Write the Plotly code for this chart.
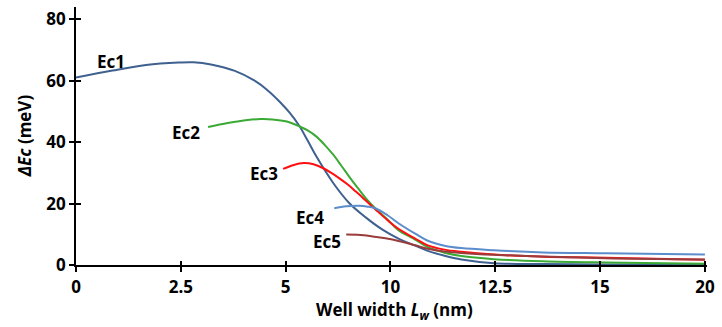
import numpy as np
import plotly.graph_objects as go

# Axis ticks (equally spaced labels on the original chart)
tick_nm = [0, 2.5, 5, 10, 12.5, 15, 20]
tick_labels = ["0", "2.5", "5", "10", "12.5", "15", "20"]
y_ticks = [0, 20, 40, 60, 80]

# Series (well width in nm, ΔEc in meV)
ec1_x = [0, 0.87, 1.67, 2.45, 2.80, 3.22, 3.79, 4.26, 4.56, 4.87, 5.20, 5.67, 6.05, 6.47, 7.27,
         8.03, 8.82, 9.62, 10.19, 10.59, 10.89, 11.29, 11.69, 12.47, 13.64, 15.25, 20]
ec1_y = [61, 63.3, 65.1, 65.9, 66.0, 65.3, 63.2, 60.0, 57.0, 53.0, 49.5, 45.1, 40.5, 35.3, 26.7,
         20.2, 15.5, 11.5, 8.6, 6.3, 4.6, 3.0, 1.8, 0.6, 0.3, 0.2, 0.2]

ec2_x = [3.15, 3.62, 4.09, 4.40, 4.68, 5.06, 5.67, 6.05, 6.47, 6.85, 7.27, 7.65, 8.03, 8.45,
         8.82, 9.30, 9.86, 10.19, 10.59, 10.89, 11.29, 11.69, 12.47, 13.64, 15.25, 20]
ec2_y = [44.9, 46.2, 47.2, 47.5, 47.4, 46.7, 45.1, 43.8, 41.8, 39.2, 35.9, 32.4, 28.8, 25.0,
         21.8, 18.3, 14.8, 11.3, 8.3, 5.8, 4.0, 2.9, 1.9, 1.2, 0.8, 0.4]

ec3_x = [4.94, 5.35, 5.86, 6.33, 6.80, 7.18, 7.55, 7.98, 8.35, 8.82, 9.30, 9.86, 10.19, 10.59,
         10.89, 11.29, 11.69, 12.47, 13.64, 15.25, 20]
ec3_y = [31.3, 32.5, 33.2, 32.8, 31.5, 30.0, 28.3, 26.1, 23.9, 21.0, 18.0, 14.6, 11.8, 8.6,
         6.4, 5.0, 4.3, 3.4, 2.7, 2.4, 1.7]

ec4_x = [7.32, 7.89, 8.50, 8.92, 9.30, 9.86, 10.19, 10.59, 10.89, 11.29, 11.69, 12.47, 13.64, 15.25, 20]
ec4_y = [18.5, 19.1, 19.3, 19.0, 18.4, 16.2, 13.6, 10.2, 7.9, 6.3, 5.5, 4.8, 4.1, 3.8, 3.4]

ec5_x = [7.89, 8.73, 9.15, 9.77, 10.19, 10.59, 10.89, 11.29, 11.69, 12.47, 13.64, 15.25, 20]
ec5_y = [9.9, 9.7, 9.3, 8.7, 7.8, 6.4, 5.3, 4.4, 3.9, 3.3, 2.8, 2.2, 1.8]

names = ["Ec1", "Ec2", "Ec3", "Ec4", "Ec5"]
colors = ["#3f6190", "#3aaa35", "#ff1010", "#5b8ccc", "#9a3c3c"]
series = [(ec1_x, ec1_y), (ec2_x, ec2_y), (ec3_x, ec3_y), (ec4_x, ec4_y), (ec5_x, ec5_y)]

# label anchors in (axis position, meV)
label_pos = [(0.33, 66.1), (1.05, 43.3), (1.79, 29.7), (2.23, 15.4), (2.39, 7.6)]

tick_pos = list(range(len(tick_nm)))


def to_axis(xs):
    return np.interp(xs, tick_nm, tick_pos)


fig = go.Figure()
for (xs, ys), name, c in zip(series, names, colors):
    fig.add_trace(go.Scatter(x=to_axis(xs), y=ys, mode="lines", name=name,
                             line=dict(color=c, width=2, shape="spline", smoothing=1.0),
                             showlegend=False))

font_main = "Open Sans, Liberation Sans, sans-serif"
for name, (px, py) in zip(names, label_pos):
    fig.add_annotation(x=px, y=py, text="<b>%s</b>" % name, showarrow=False,
                       font=dict(family=font_main, size=17, color="black"))

fig.add_annotation(xref="paper", yref="paper", x=0.505, y=-0.175, text="<b>Well width <i>L<sub>w</sub></i> (nm)</b>",
                   showarrow=False, font=dict(family=font_main, size=17, color="black"),
                   xanchor="center", yanchor="middle")
fig.add_annotation(xref="paper", yref="paper", x=-0.082, y=0.5, text="<b><i>ΔEc</i> (meV)</b>",
                   showarrow=False, textangle=-90, font=dict(family=font_main, size=17, color="black"),
                   xanchor="center", yanchor="middle")

axis_common = dict(showgrid=False, zeroline=False, linecolor="black", ticks="outside",
                   tickcolor="black", tickwidth=1.5, ticklen=5)

fig.update_layout(
    width=722, height=327,
    margin=dict(l=76, r=8, t=7, b=62),
    paper_bgcolor="white", plot_bgcolor="white",
    xaxis=dict(range=[0, 6.02], tickvals=tick_pos, ticktext=tick_labels, linewidth=2.2,
               tickfont=dict(family=font_main, size=17, color="black", weight="bold"), **axis_common),
    yaxis=dict(range=[0, 84], tickvals=y_ticks, linewidth=1.8,
               tickfont=dict(family=font_main, size=17, color="black", weight="bold"), **axis_common),
    xaxis2=dict(overlaying="x", matches="x", range=[0, 6.02], tickvals=tick_pos, showticklabels=False,
                ticks="inside", ticklen=4, tickwidth=1.5, tickcolor="black", showgrid=False,
                zeroline=False, showline=False, side="bottom"),
    yaxis2=dict(overlaying="y", matches="y", range=[0, 84], tickvals=y_ticks, showticklabels=False,
                ticks="inside", ticklen=5, tickwidth=1.5, tickcolor="black", showgrid=False,
                zeroline=False, showline=False, side="left"),
)
# invisible trace to activate the inner-tick axes
fig.add_trace(go.Scatter(x=[0], y=[0], xaxis="x2", yaxis="y2", mode="markers",
                         marker=dict(opacity=0), hoverinfo="skip", showlegend=False))

fig.write_html("out.html")
